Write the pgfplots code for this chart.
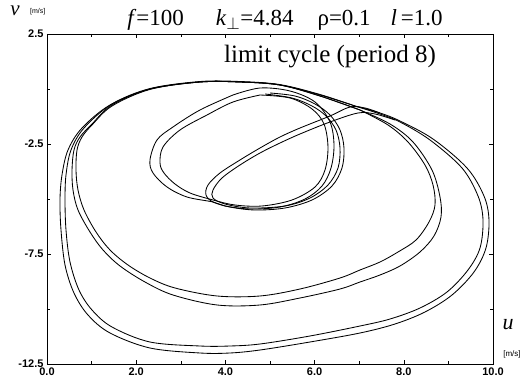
\documentclass[border=0pt]{standalone}
\usepackage{fontspec}
\setmainfont{Liberation Serif}
\setsansfont{Liberation Sans}
\usepackage{pgfplots}
\pgfplotsset{compat=1.18}
\begin{document}
\begin{tikzpicture}[x=1pt,y=1pt]
\useasboundingbox (-47,-21) rectangle (478,364);
\begin{axis}[
 at={(0,0)}, anchor=south west,
 scale only axis, width=446pt, height=330pt,
 xmin=0, xmax=10, ymin=-12.5, ymax=2.5,
 xtick={0,2,4,6,8,10}, xticklabels={0.0,2.0,4.0,6.0,8.0,10.0},
 minor xtick={1,3,5,7,9},
 ytick={-12.5,-7.5,-2.5,2.5}, yticklabels={-12.5,-7.5,-2.5,2.5},
 minor ytick={-10,-5,0},
 tick align=inside, major tick length=4pt, minor tick length=3pt,
 tick style={black, line width=0.6pt},
 ticklabel style={font=\fontsize{11}{13}\selectfont\sffamily\bfseries},
 axis line style={line width=0.7pt},
 traj/.style={black, solid, line width=0.85pt, smooth, tension=0.55, mark=none},
]
% A outer
\addplot[traj] coordinates {(6.906,-0.773) (7.466,-1.091) (7.915,-1.455) (8.655,-2.273) (9.417,-3.591) (9.798,-4.864) (9.910,-5.955) (9.843,-7.227) (9.574,-8.318) (9.081,-9.364) (8.475,-10.136) (7.803,-10.682) (7.018,-11.091) (5.897,-11.5) (4.776,-11.864) (4.103,-12.0) (3.430,-12.0) (2.309,-11.773) (1.413,-11.091) (0.919,-10.273) (0.605,-9.273) (0.404,-8.0) (0.314,-6.409) (0.291,-5.045) (0.336,-3.909) (0.471,-2.773) (0.785,-1.773) (1.413,-0.727) (2.309,0) (3.430,0.318) (4.327,0.318) (5.224,0.182) (6.121,-0.273) (6.906,-0.773)};
% A inner
\addplot[traj] coordinates {(6.906,-0.773) (7.466,-1.136) (7.915,-1.5) (8.587,-2.318) (9.305,-3.591) (9.664,-4.864) (9.776,-5.955) (9.709,-7.227) (9.439,-8.227) (8.969,-9.227) (8.363,-9.955) (7.691,-10.455) (7.018,-10.773) (5.897,-11.227) (4.776,-11.591) (4.103,-11.682) (3.430,-11.682) (2.309,-11.5) (1.457,-10.818) (1.009,-10.045) (0.717,-9.136) (0.516,-7.864) (0.426,-6.409) (0.404,-5.045) (0.426,-3.909) (0.538,-2.773) (0.830,-1.773) (1.457,-0.682) (2.309,0.02) (3.430,0.34) (4.327,0.34) (5.224,0.2) (6.121,-0.25) (6.906,-0.773)};
% B outer
\addplot[traj] coordinates {(7.018,-0.955) (7.691,-1.591) (8.206,-2.409) (8.632,-3.682) (8.812,-4.909) (8.834,-5.818) (8.677,-6.682) (8.363,-7.409) (7.915,-8.045) (7.466,-8.455) (7.018,-8.773) (6.570,-9.091) (5.673,-9.5) (4.776,-9.818) (3.812,-9.818) (2.825,-9.364) (2.197,-8.773) (1.637,-8.045) (1.256,-7.318) (0.964,-6.5) (0.695,-5.5) (0.583,-4.591) (0.561,-3.682) (0.605,-2.773) (0.740,-2.182) (1.009,-1.591) (1.457,-0.727) (2.309,0) (3.430,0.318) (4.327,0.318) (5.224,0.182) (6.121,-0.318) (7.018,-0.955)};
% B inner
\addplot[traj] coordinates {(7.018,-0.955) (7.646,-1.636) (8.094,-2.409) (8.475,-3.455) (8.655,-4.364) (8.700,-5.273) (8.565,-6.045) (8.274,-6.864) (7.870,-7.409) (7.466,-7.864) (7.018,-8.227) (6.570,-8.591) (5.673,-9.091) (4.776,-9.409) (3.812,-9.409) (2.870,-9.045) (2.309,-8.591) (1.816,-8.0) (1.413,-7.318) (1.099,-6.5) (0.830,-5.5) (0.695,-4.591) (0.650,-3.682) (0.673,-2.773) (0.785,-2.182) (1.009,-1.636) (1.457,-0.773) (2.309,-0.02) (3.430,0.318) (4.327,0.318) (5.224,0.182) (6.121,-0.318) (7.018,-0.955)};
% C outer
\addplot[traj] coordinates {(4.170,-0.273) (4.776,0.045) (5.448,-0.091) (6.009,-0.591) (6.345,-1.5) (6.435,-2.545) (6.368,-3.591) (6.166,-4.409) (5.785,-5.0) (5.224,-5.364) (4.552,-5.455) (3.991,-5.318) (3.722,-5.136) (3.139,-4.909) (2.691,-4.455) (2.377,-3.818) (2.309,-3.227) (2.466,-2.318) (2.825,-1.727) (3.430,-0.955) (4.170,-0.273)};
% C inner
\addplot[traj] coordinates {(4.776,-0.273) (5.448,-0.409) (5.942,-0.909) (6.211,-1.591) (6.300,-2.636) (6.233,-3.682) (6.009,-4.455) (5.493,-5.045) (4.821,-5.318) (4.215,-5.273) (3.722,-5.045) (3.206,-4.727) (2.870,-4.318) (2.623,-3.818) (2.534,-3.364) (2.601,-2.636) (2.982,-1.864) (3.587,-1.182) (4.170,-0.591) (4.776,-0.273)};
% D 1
\addplot[traj] coordinates {(7.466,-1.091) (7.130,-0.864) (6.794,-0.818) (6.345,-1.227) (5.673,-1.773) (5.224,-2.182) (4.776,-2.682) (4.327,-3.227) (3.879,-3.818) (3.610,-4.364) (3.565,-4.818) (3.722,-5.136) (4.103,-5.364) (4.664,-5.5) (5.336,-5.409) (5.942,-5.045) (6.390,-4.409) (6.614,-3.591) (6.659,-2.682) (6.570,-1.864) (6.345,-1.182) (6.009,-0.682) (5.561,-0.318) (5.0,-0.182)};
% D 2
\addplot[traj] coordinates {(7.803,-1.409) (7.354,-1.136) (6.973,-1.091) (6.345,-1.5) (5.673,-2.045) (5.224,-2.455) (4.776,-2.909) (4.327,-3.455) (3.924,-4.045) (3.722,-4.591) (3.722,-4.955) (3.991,-5.227) (4.552,-5.409) (5.336,-5.318) (5.897,-4.955) (6.300,-4.364) (6.525,-3.591) (6.570,-2.682) (6.480,-1.864) (6.256,-1.227) (5.942,-0.773) (5.493,-0.409) (4.888,-0.227)};
\end{axis}
\node[anchor=base, font=\fontsize{23}{26}\selectfont] at (238,338) {\textit{f}=100\hspace{32pt}\textit{k}$_{\perp}$=4.84\hspace{24pt}ρ=0.1\hspace{20pt}\textit{l}\,=1.0};
\node[anchor=base, font=\fontsize{25}{28}\selectfont] at (283,301) {limit cycle (period 8)};
\node[anchor=base, inner sep=0pt, font=\fontsize{21}{24}\selectfont\itshape] at (-32,348) {v};
\node[anchor=base west, inner sep=0pt, font=\fontsize{7}{8}\selectfont\sffamily] at (-17,350) {[m/s]};
\node[anchor=base, inner sep=0pt, font=\fontsize{22}{24}\selectfont\itshape] at (461,34) {u};
\node[anchor=base, inner sep=0pt, font=\fontsize{8}{9}\selectfont\sffamily] at (465,7) {[m/s]};
\end{tikzpicture}
\end{document}
